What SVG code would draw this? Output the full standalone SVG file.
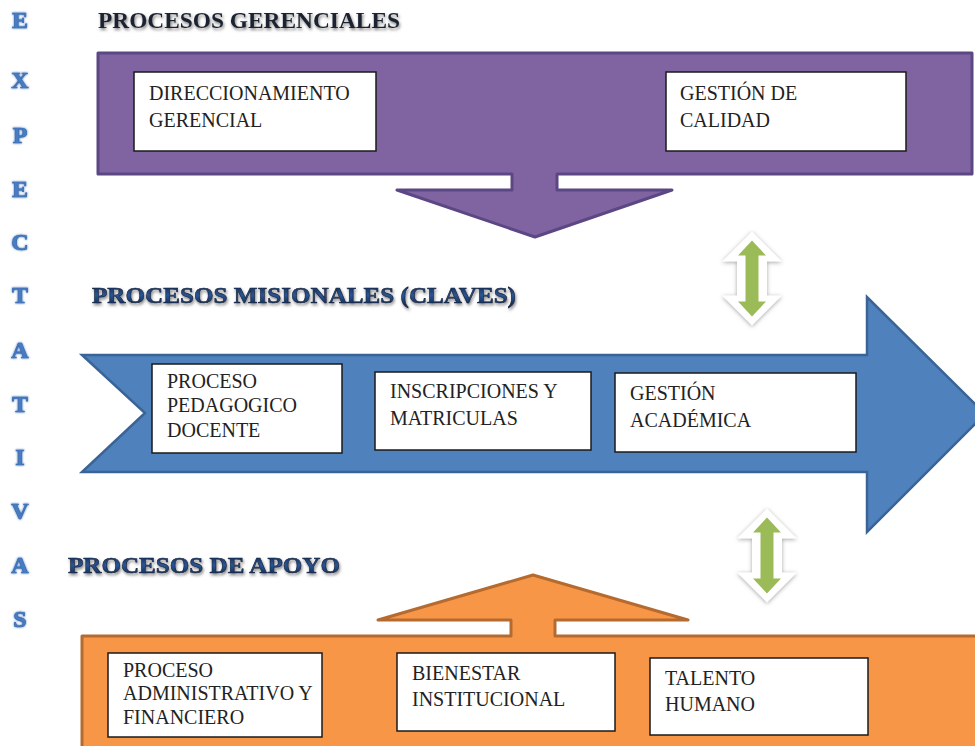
<svg xmlns="http://www.w3.org/2000/svg" width="975" height="746" viewBox="0 0 975 746">
  <defs>
    <style>
      .side { font-family: "Liberation Serif", "Times New Roman", serif; font-weight: 700; font-size: 24px; fill: #4a7cc0; stroke: #3b6db3; stroke-width: 0.7; text-anchor: middle; }
      .title { font-family: "Liberation Serif", "Times New Roman", serif; font-weight: 700; font-size: 24px; }
      .box { fill: #ffffff; stroke: #1a1a1a; stroke-width: 1.5; }
      .lbl { font-family: "Liberation Serif", "Times New Roman", serif; font-size: 20px; fill: #222222; }
      .green { fill: #9bbb59; }
      .bevel { fill: #ffffff; filter: url(#bevelShadow); }
    </style>
    <filter id="titleShadow" x="-5%" y="-40%" width="110%" height="180%">
      <feGaussianBlur in="SourceAlpha" stdDeviation="1.6"/>
      <feOffset dx="1" dy="2" result="b"/>
      <feFlood flood-color="#555555" flood-opacity="0.75"/>
      <feComposite in2="b" operator="in" result="s"/>
      <feMerge><feMergeNode in="s"/><feMergeNode in="SourceGraphic"/></feMerge>
    </filter>
    <filter id="sideGlow" x="-50%" y="-50%" width="200%" height="200%">
      <feGaussianBlur in="SourceGraphic" stdDeviation="0.8" result="g"/>
      <feMerge><feMergeNode in="g"/><feMergeNode in="SourceGraphic"/></feMerge>
    </filter>
    <filter id="bevelShadow" x="-30%" y="-30%" width="160%" height="160%">
      <feDropShadow dx="0" dy="1" stdDeviation="2" flood-color="#7f7f7f" flood-opacity="0.7"/>
    </filter>
    <linearGradient id="blueTitle" x1="0" y1="0" x2="0" y2="1">
      <stop offset="0" stop-color="#0d1f3c"/>
      <stop offset="0.5" stop-color="#2a5595"/>
      <stop offset="1" stop-color="#0d1f3c"/>
    </linearGradient>
    <g id="dblArrow">
      <path class="bevel" d="M0,-47 L30,-17 H15 V17 H30 L0,47 L-30,17 H-15 V-17 H-30 Z"/>
      <path class="green" d="M0,-38 L14,-23 H6.5 V23 H14 L0,38 L-14,23 H-6.5 V-23 H-14 Z"/>
    </g>
  </defs>

  <rect width="975" height="746" fill="#ffffff"/>

  <g id="side-expectativas" filter="url(#sideGlow)">
    <text class="side" x="20" y="28">E</text>
    <text class="side" x="20" y="88">X</text>
    <text class="side" x="20" y="143">P</text>
    <text class="side" x="20" y="197">E</text>
    <text class="side" x="20" y="250">C</text>
    <text class="side" x="20" y="303">T</text>
    <text class="side" x="20" y="358">A</text>
    <text class="side" x="20" y="412">T</text>
    <text class="side" x="20" y="465">I</text>
    <text class="side" x="20" y="519">V</text>
    <text class="side" x="20" y="573">A</text>
    <text class="side" x="20" y="627">S</text>
  </g>

  <g id="gerenciales">
    <text class="title" x="98" y="28" textLength="302" lengthAdjust="spacingAndGlyphs" fill="#1a2433" filter="url(#titleShadow)">PROCESOS GERENCIALES</text>
    <path d="M98,53 H972 V174 H557 V190 H672 L535,237 L397,190 H512 V174 H98 Z" fill="#8064a2" stroke="#5c4785" stroke-width="3" stroke-linejoin="round"/>
  </g>
  <g id="node-direccionamiento">
    <rect class="box" x="134" y="72" width="242" height="79"/>
    <text class="lbl" x="149" y="100">DIRECCIONAMIENTO</text>
    <text class="lbl" x="149" y="127">GERENCIAL</text>
  </g>
  <g id="node-calidad">
    <rect class="box" x="666" y="72" width="240" height="79"/>
    <text class="lbl" x="680" y="100">GESTIÓN DE</text>
    <text class="lbl" x="680" y="127">CALIDAD</text>
  </g>

  <g id="misionales">
    <text class="title" x="92" y="303" textLength="424" lengthAdjust="spacingAndGlyphs" fill="url(#blueTitle)" stroke="#0d1f3c" stroke-width="0.6" filter="url(#titleShadow)">PROCESOS MISIONALES (CLAVES)</text>
    <path d="M82,355 H867 V297 L985,414 L867,532 V472 H82 L145,413 Z" fill="#4f81bd" stroke="#3a6496" stroke-width="2.5" stroke-linejoin="miter"/>
  </g>
  <g id="node-pedagogico">
    <rect class="box" x="152" y="364" width="190" height="89"/>
    <text class="lbl" x="167" y="388" font-size="18">PROCESO</text>
    <text class="lbl" x="167" y="412" font-size="18">PEDAGOGICO</text>
    <text class="lbl" x="167" y="437" font-size="18">DOCENTE</text>
  </g>
  <g id="node-inscripciones">
    <rect class="box" x="375" y="372" width="216" height="78"/>
    <text class="lbl" x="390" y="398">INSCRIPCIONES Y</text>
    <text class="lbl" x="390" y="425">MATRICULAS</text>
  </g>
  <g id="node-academica">
    <rect class="box" x="615" y="373" width="241" height="79"/>
    <text class="lbl" x="630" y="400">GESTIÓN</text>
    <text class="lbl" x="630" y="427">ACADÉMICA</text>
  </g>

  <g id="apoyo">
    <text class="title" x="68" y="573" textLength="272" lengthAdjust="spacingAndGlyphs" fill="url(#blueTitle)" stroke="#0d1f3c" stroke-width="0.6" filter="url(#titleShadow)">PROCESOS DE APOYO</text>
    <path d="M82,636 H511 V620 H378 L533,575 L688,620 H555 V636 H990 V760 H82 Z" fill="#f79646" stroke="#b56b30" stroke-width="3" stroke-linejoin="round"/>
  </g>
  <g id="node-administrativo">
    <rect class="box" x="108" y="653" width="214" height="84"/>
    <text class="lbl" x="123" y="677" font-size="18.5">PROCESO</text>
    <text class="lbl" x="123" y="700" font-size="18.5">ADMINISTRATIVO Y</text>
    <text class="lbl" x="123" y="724" font-size="18.5">FINANCIERO</text>
  </g>
  <g id="node-bienestar">
    <rect class="box" x="397" y="653" width="218" height="78"/>
    <text class="lbl" x="412" y="680">BIENESTAR</text>
    <text class="lbl" x="412" y="706">INSTITUCIONAL</text>
  </g>
  <g id="node-talento">
    <rect class="box" x="650" y="658" width="218" height="77"/>
    <text class="lbl" x="665" y="685">TALENTO</text>
    <text class="lbl" x="665" y="711">HUMANO</text>
  </g>

  <g id="connectors">
    <use href="#dblArrow" transform="translate(752,278.5)"/>
    <use href="#dblArrow" transform="translate(767,555.5)"/>
  </g>
</svg>
